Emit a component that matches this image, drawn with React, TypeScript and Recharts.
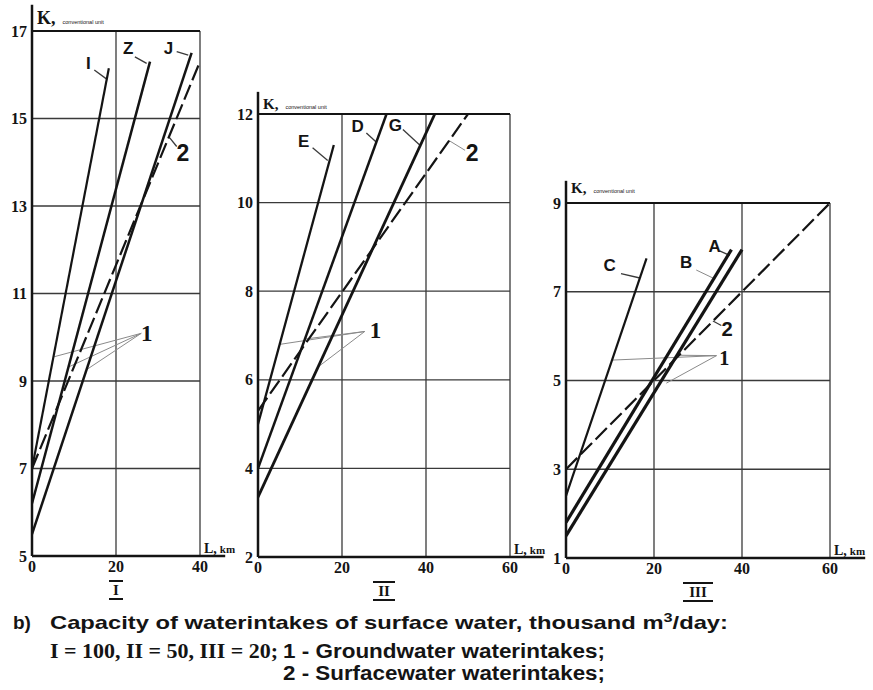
import React from "react";
import {
  LineChart,
  Line,
  XAxis,
  YAxis,
  CartesianGrid,
  ReferenceLine,
  ReferenceDot,
} from "recharts";

const PAGE_W = 873;
const PAGE_H = 690;
const INK = "#141414";
const AXIS_W = 30;
const AXIS_H = 30;

type Pt = [number, number];

// ---- Panel I: surface intake 100 thousand m3/day ----
const xTicksI = [0, 20, 40];
const yTicksI = [5, 7, 9, 11, 13, 15, 17];
const groundI_I: Pt[] = [[0, 7.0], [18.3, 16.15]];
const groundI_Z: Pt[] = [[0, 6.2], [28.1, 16.3]];
const groundI_J: Pt[] = [[0, 5.5], [38.0, 16.5]];
const surfaceI: Pt[] = [[0, 7.0], [40.0, 16.3]];

// ---- Panel II: surface intake 50 thousand m3/day ----
const xTicksII = [0, 20, 40, 60];
const yTicksII = [2, 4, 6, 8, 10, 12];
const groundII_E: Pt[] = [[0, 5.0], [18.05, 11.3]];
const groundII_D: Pt[] = [[0, 4.0], [30.6, 12.0]];
const groundII_G: Pt[] = [[0, 3.35], [42.1, 12.0]];
const surfaceII: Pt[] = [[0, 5.3], [50.0, 12.0]];

// ---- Panel III: surface intake 20 thousand m3/day ----
const xTicksIII = [0, 20, 40, 60];
const yTicksIII = [1, 3, 5, 7, 9];
const groundIII_C: Pt[] = [[0, 2.4], [18.3, 7.75]];
const groundIII_B: Pt[] = [[0, 1.8], [37.6, 7.95]];
const groundIII_A: Pt[] = [[0, 1.5], [40.0, 7.95]];
const surfaceIII: Pt[] = [[0, 3.0], [60.0, 9.0]];

// callout labels and their leader lines, in data units of each panel
type Note = { text: string; at: Pt; kind: "letter" | "one" | "two" };
type Leader = { from: Pt; to: Pt; light?: boolean };

const notesI: Note[] = [
  { text: "I", at: [13.4, 16.26], kind: "letter" },
  { text: "Z", at: [22.9, 16.6], kind: "letter" },
  { text: "J", at: [32.5, 16.6], kind: "letter" },
  { text: "2", at: [35.9, 14.22], kind: "two" },
  { text: "1", at: [27.3, 10.09], kind: "one" },
];
const leadersI: Leader[] = [
  { from: [14.83, 16.11], to: [17.79, 15.9] },
  { from: [24.5, 16.41], to: [27.3, 16.26] },
  { from: [34.45, 16.53], to: [37.2, 16.45] },
  { from: [32.7, 14.57], to: [34.45, 14.36] },
  { from: [26.0, 10.09], to: [5.1, 9.55], light: true },
  { from: [26.0, 10.09], to: [8.7, 9.32], light: true },
  { from: [26.0, 10.09], to: [13.0, 9.26], light: true },
];

const notesII: Note[] = [
  { text: "E", at: [10.9, 11.37], kind: "letter" },
  { text: "D", at: [23.7, 11.72], kind: "letter" },
  { text: "G", at: [32.7, 11.74], kind: "letter" },
  { text: "2", at: [51.0, 11.13], kind: "two" },
  { text: "1", at: [27.95, 7.11], kind: "one" },
];
const leadersII: Leader[] = [
  { from: [13.0, 11.24], to: [16.6, 10.95] },
  { from: [25.8, 11.57], to: [28.2, 11.36] },
  { from: [34.5, 11.65], to: [38.5, 11.3] },
  { from: [45.5, 11.4], to: [49.3, 11.18], light: true },
  { from: [25.4, 7.09], to: [5.2, 6.8], light: true },
  { from: [25.4, 7.09], to: [11.2, 6.92], light: true },
  { from: [25.4, 7.09], to: [14.3, 6.29], light: true },
];

const notesIII: Note[] = [
  { text: "C", at: [9.9, 7.6], kind: "letter" },
  { text: "B", at: [27.3, 7.67], kind: "letter" },
  { text: "A", at: [33.8, 8.01], kind: "letter" },
  { text: "2", at: [36.6, 6.17], kind: "two" },
  { text: "1", at: [36.0, 5.5], kind: "one" },
];
const leadersIII: Leader[] = [
  { from: [12.5, 7.41], to: [16.8, 7.31] },
  { from: [29.6, 7.49], to: [33.6, 7.3], light: true },
  { from: [34.9, 7.92], to: [37.2, 7.82] },
  { from: [33.4, 6.34], to: [35.3, 6.24] },
  { from: [34.2, 5.56], to: [10.5, 5.46], light: true },
  { from: [34.2, 5.56], to: [25.1, 5.57], light: true },
  { from: [34.2, 5.56], to: [22.8, 4.94], light: true },
];

type Series = { name: string; pts: Pt[]; width: number };

type Panel = {
  id: string;
  numeral: string;
  box: { left: number; right: number; top: number; bottom: number };
  xTicks: number[];
  yTicks: number[];
  axisTop: number;
  axisRight: number;
  kSize: number;
  kLift: number;
  noteScale: number;
  ground: Series[];
  surface: Pt[];
  notes: Note[];
  leaders: Leader[];
};

const panels: Panel[] = [
  {
    id: "p1",
    numeral: "I",
    box: { left: 32, right: 200, top: 31, bottom: 556 },
    xTicks: xTicksI,
    yTicks: yTicksI,
    axisTop: 17.6,
    axisRight: 46,
    kSize: 18,
    kLift: 7,
    noteScale: 1,
    ground: [
      { name: "I", pts: groundI_I, width: 2.2 },
      { name: "Z", pts: groundI_Z, width: 2.5 },
      { name: "J", pts: groundI_J, width: 2.5 },
    ],
    surface: surfaceI,
    notes: notesI,
    leaders: leadersI,
  },
  {
    id: "p2",
    numeral: "II",
    box: { left: 258, right: 510, top: 114, bottom: 557 },
    xTicks: xTicksII,
    yTicks: yTicksII,
    axisTop: 12.5,
    axisRight: 68,
    kSize: 15,
    kLift: 5,
    noteScale: 1,
    ground: [
      { name: "E", pts: groundII_E, width: 2.3 },
      { name: "D", pts: groundII_D, width: 2.5 },
      { name: "G", pts: groundII_G, width: 2.8 },
    ],
    surface: surfaceII,
    notes: notesII,
    leaders: leadersII,
  },
  {
    id: "p3",
    numeral: "III",
    box: { left: 566, right: 830, top: 203, bottom: 558 },
    xTicks: xTicksIII,
    yTicks: yTicksIII,
    axisTop: 9.5,
    axisRight: 68,
    kSize: 15,
    kLift: 10,
    noteScale: 0.88,
    ground: [
      { name: "C", pts: groundIII_C, width: 2.2 },
      { name: "B", pts: groundIII_B, width: 3.2 },
      { name: "A", pts: groundIII_A, width: 3.2 },
    ],
    surface: surfaceIII,
    notes: notesIII,
    leaders: leadersIII,
  },
];

const toRows = (pts: Pt[]) => pts.map(([x, y]) => ({ x, y }));

const tickFont = {
  fontSize: 16,
  fontWeight: 700,
  fontFamily: "Liberation Serif",
  fill: INK,
};

function anchor(props: any) {
  const vb = props.viewBox || {};
  return { x: (vb.x || 0) + (vb.width || 0) / 2, y: (vb.y || 0) + (vb.height || 0) / 2 };
}

function NoteText(props: any) {
  const { x, y } = anchor(props);
  const { text, kind, scale = 1 } = props;
  const serif = kind === "one";
  const size = kind === "letter" ? 17 : 23 * scale;
  return (
    <text
      x={x}
      y={y}
      textAnchor="middle"
      dominantBaseline="central"
      fontFamily={serif ? "Liberation Serif" : "Liberation Sans"}
      fontWeight={700}
      fontSize={size}
      fill={INK}
    >
      {text}
    </text>
  );
}

function AxisName(props: any) {
  const { x, y } = anchor(props);
  return (
    <text x={x + 5} y={y - props.lift} fill={INK} fontFamily="Liberation Serif">
      <tspan fontSize={props.size} fontWeight={700}>K,</tspan>
      <tspan fontSize={5.5} fontFamily="Liberation Sans" dx={7}>
        conventional unit
      </tspan>
    </text>
  );
}

function DistanceName(props: any) {
  const { x, y } = anchor(props);
  return (
    <text x={x + 4} y={y - 3} fill={INK} fontFamily="Liberation Serif" fontWeight={700}>
      <tspan fontSize={14}>L,</tspan>
      <tspan fontSize={11} dx={3}>km</tspan>
    </text>
  );
}

function Numeral(props: any) {
  const { x, y } = anchor(props);
  const cy = y + 34;
  const half = props.text.length * 4 + 3;
  return (
    <g>
      <line x1={x - half} x2={x + half} y1={cy - 9} y2={cy - 9} stroke={INK} strokeWidth={2} />
      <text
        x={x}
        y={cy}
        textAnchor="middle"
        dominantBaseline="central"
        fontFamily="Liberation Serif"
        fontWeight={700}
        fontSize={15}
        fill={INK}
      >
        {props.text}
      </text>
      <line x1={x - half} x2={x + half} y1={cy + 9} y2={cy + 9} stroke={INK} strokeWidth={2} />
    </g>
  );
}

function PanelChart({ p }: { p: Panel }) {
  const { box } = p;
  const xMax = p.xTicks[p.xTicks.length - 1];
  const yMin = p.yTicks[0];
  const yMax = p.yTicks[p.yTicks.length - 1];
  // the axes take AXIS_W / AXIS_H out of the margin so the plot lands on box
  const margin = {
    left: box.left - AXIS_W,
    top: box.top,
    right: PAGE_W - box.right,
    bottom: PAGE_H - box.bottom - AXIS_H,
  };
  return (
    <div style={{ position: "absolute", left: 0, top: 0 }}>
      <LineChart width={PAGE_W} height={PAGE_H} margin={margin}>
        <CartesianGrid stroke="#3a3a3a" strokeWidth={1.3} />
        <XAxis
          type="number"
          dataKey="x"
          domain={[0, xMax]}
          ticks={p.xTicks}
          interval={0}
          allowDataOverflow
          height={AXIS_H}
          tickSize={0}
          tickMargin={5}
          tickLine={false}
          axisLine={{ stroke: INK, strokeWidth: 2.5 }}
          tick={tickFont}
        />
        <YAxis
          type="number"
          domain={[yMin, yMax]}
          ticks={p.yTicks}
          interval={0}
          allowDataOverflow
          width={AXIS_W}
          tickSize={0}
          tickMargin={5}
          tickLine={false}
          axisLine={{ stroke: INK, strokeWidth: 2.5 }}
          tick={tickFont}
        />
        {/* frame: heavier top edge, axes run past the grid */}
        <ReferenceLine y={yMax} stroke={INK} strokeWidth={2} ifOverflow="visible" />
        <ReferenceLine
          segment={[{ x: 0, y: yMax }, { x: 0, y: p.axisTop }]}
          stroke={INK}
          strokeWidth={2.5}
          ifOverflow="visible"
        />
        <ReferenceLine
          segment={[{ x: xMax, y: yMin }, { x: p.axisRight, y: yMin }]}
          stroke={INK}
          strokeWidth={2.5}
          ifOverflow="visible"
        />
        {p.leaders.map((l, i) => (
          <ReferenceLine
            key={"ld" + i}
            segment={[
              { x: l.from[0], y: l.from[1] },
              { x: l.to[0], y: l.to[1] },
            ]}
            stroke={l.light ? "#8a8a8a" : "#3a3a3a"}
            strokeWidth={l.light ? 1 : 1.3}
            ifOverflow="visible"
          />
        ))}
        {p.ground.map((s) => (
          <Line
            key={s.name}
            name={s.name}
            data={toRows(s.pts)}
            dataKey="y"
            type="linear"
            stroke={INK}
            strokeWidth={s.width}
            dot={false}
            activeDot={false}
            isAnimationActive={false}
          />
        ))}
        <Line
          name="surface"
          data={toRows(p.surface)}
          dataKey="y"
          type="linear"
          stroke={INK}
          strokeWidth={2.2}
          strokeDasharray="16 5"
          dot={false}
          activeDot={false}
          isAnimationActive={false}
        />
        {p.notes.map((n, i) => (
          <ReferenceDot
            key={"nt" + i}
            x={n.at[0]}
            y={n.at[1]}
            r={0}
            fill="none"
            stroke="none"
            ifOverflow="visible"
            label={<NoteText text={n.text} kind={n.kind} scale={p.noteScale} />}
          />
        ))}
        <ReferenceDot
          x={0}
          y={yMax}
          r={0}
          fill="none"
          stroke="none"
          ifOverflow="visible"
          label={<AxisName size={p.kSize} lift={p.kLift} />}
        />
        <ReferenceDot
          x={xMax}
          y={yMin}
          r={0}
          fill="none"
          stroke="none"
          ifOverflow="visible"
          label={<DistanceName />}
        />
        <ReferenceDot
          x={xMax / 2}
          y={yMin}
          r={0}
          fill="none"
          stroke="none"
          ifOverflow="visible"
          label={<Numeral text={p.numeral} />}
        />
      </LineChart>
    </div>
  );
}

function Caption() {
  return (
    <svg
      width={PAGE_W}
      height={PAGE_H}
      style={{ position: "absolute", left: 0, top: 0, pointerEvents: "none" }}
    >
      <g fill={INK} fontWeight={700}>
        <text x={13} y={629} fontFamily="Liberation Sans" fontSize={19}>
          b)
        </text>
        <text
          x={50}
          y={629}
          fontFamily="Liberation Sans"
          fontSize={19}
          textLength={678}
          lengthAdjust="spacingAndGlyphs"
        >
          Capacity of waterintakes of surface water, thousand m
          <tspan fontSize={13} dy={-7}>3</tspan>
          <tspan dy={7}>/day:</tspan>
        </text>
        <text
          x={50}
          y={658}
          fontFamily="Liberation Serif"
          fontSize={21}
          textLength={228}
          lengthAdjust="spacingAndGlyphs"
        >
          I = 100, II = 50, III = 20;
        </text>
        <text
          x={283}
          y={658}
          fontFamily="Liberation Sans"
          fontSize={20}
          textLength={322}
          lengthAdjust="spacingAndGlyphs"
        >
          1 - Groundwater waterintakes;
        </text>
        <text
          x={283}
          y={680}
          fontFamily="Liberation Sans"
          fontSize={20}
          textLength={322}
          lengthAdjust="spacingAndGlyphs"
        >
          2 - Surfacewater waterintakes;
        </text>
      </g>
    </svg>
  );
}

export default function App() {
  return (
    <div
      style={{
        position: "absolute",
        left: 0,
        top: 0,
        width: PAGE_W,
        height: PAGE_H,
        background: "#fff",
        overflow: "hidden",
      }}
    >
      {panels.map((p) => (
        <PanelChart key={p.id} p={p} />
      ))}
      <Caption />
    </div>
  );
}
